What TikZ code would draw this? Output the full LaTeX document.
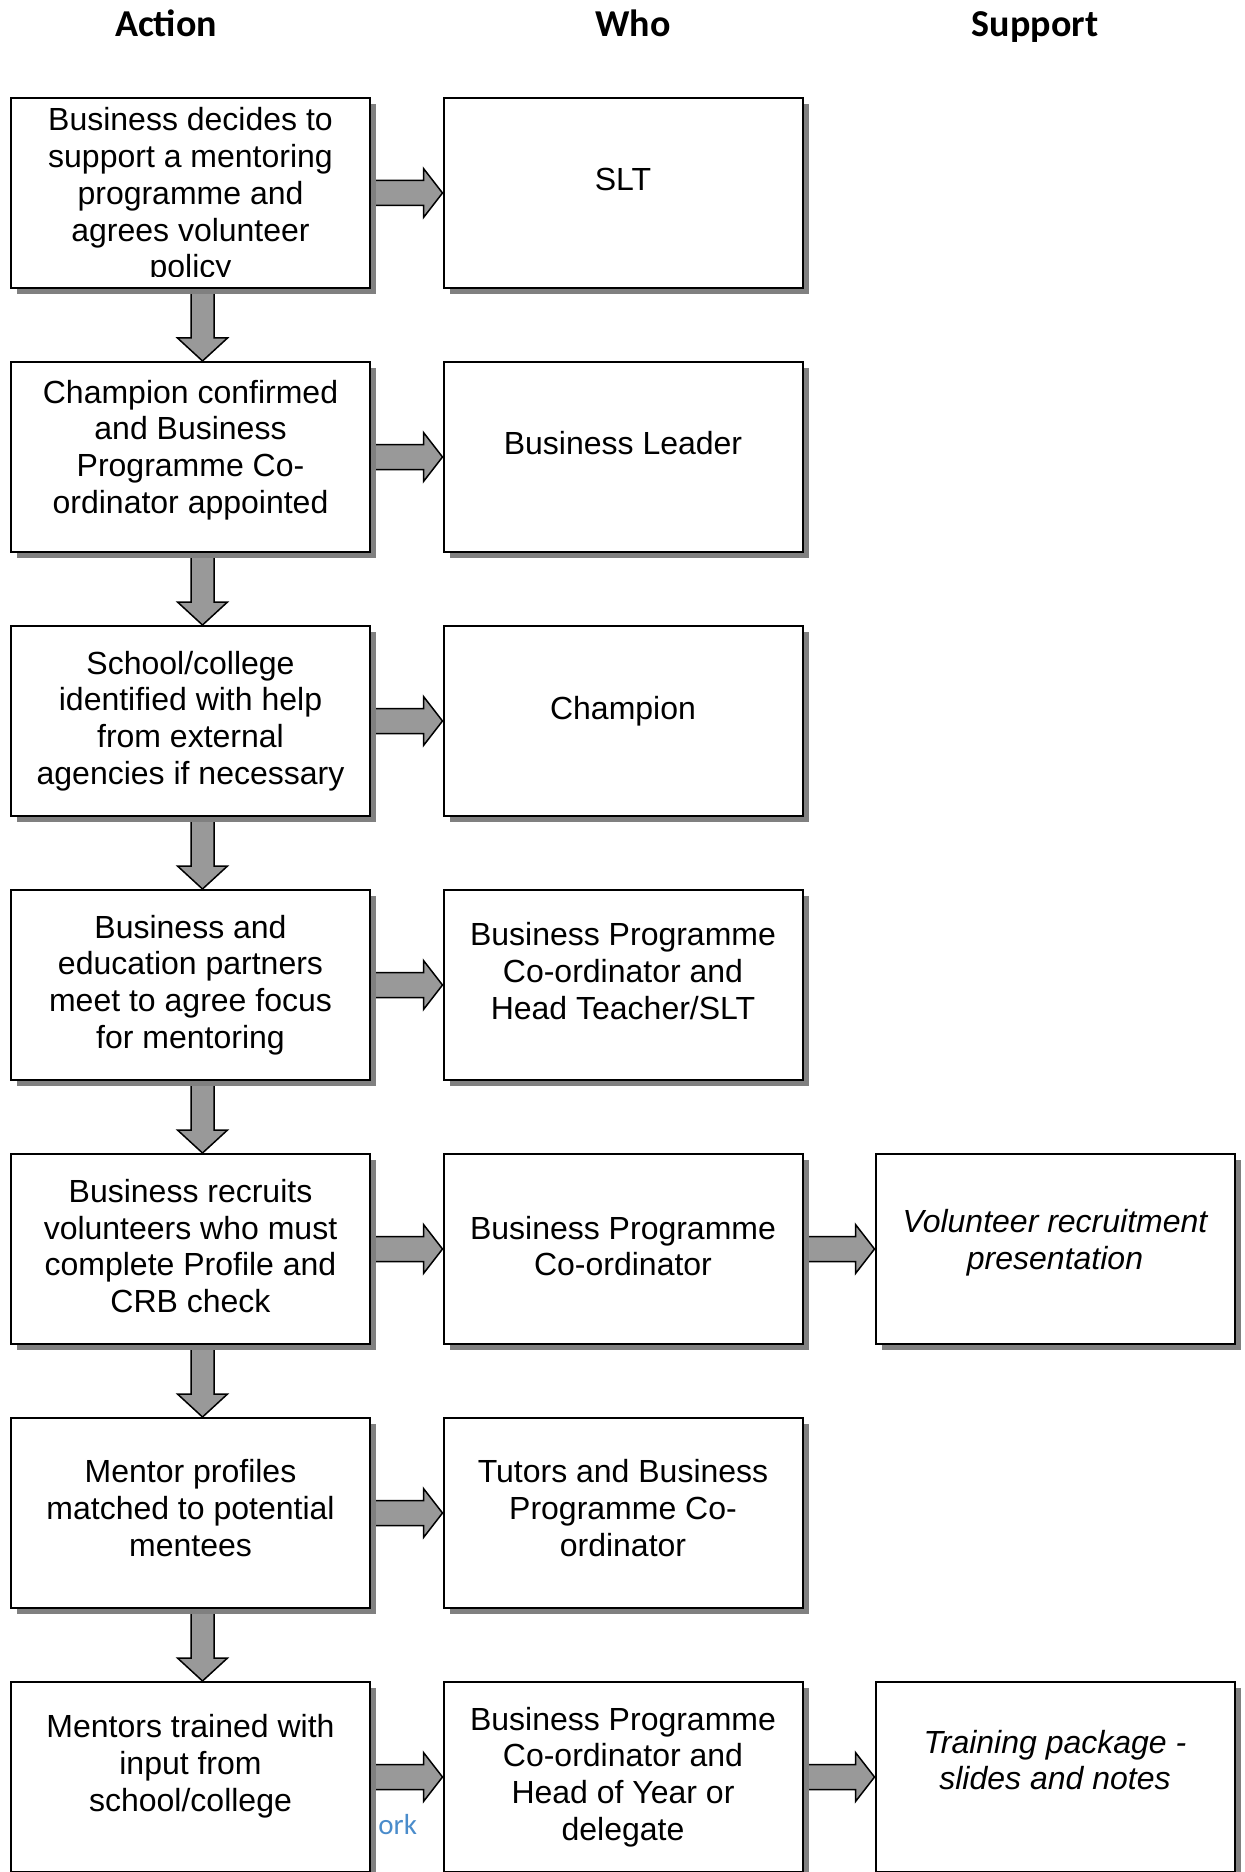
\documentclass[tikz,border=0pt]{standalone}
\usepackage{fontspec}
\setmainfont{Liberation Sans}
\newfontfamily\headfont{Carlito}
\usepackage{tikz}
\usetikzlibrary{calc}
\usetikzlibrary{backgrounds}
\usetikzlibrary{shadows}
\definecolor{ShadowGray}{HTML}{808080}
\definecolor{ArrowGray}{HTML}{999999}
\definecolor{LinkBlue}{HTML}{4A8CCB}
\newcommand{\pagesizex}{1245}
\newcommand{\pagesizey}{1872}
\newcommand{\boxsizex}{179.5pt}
\newcommand{\boxsizey}{95pt}
\newcommand{\colax}{190.5}
\newcommand{\colbx}{623}
\newcommand{\colcx}{1055}
\newcommand{\rowgap}{264}
\newcommand{\rowy}[1]{193 + #1*\rowgap}
\newcommand{\rshafthw}{12.5}
\newcommand{\rheadhw}{24.5}
\newcommand{\rheadlen}{19}
\newcommand{\dshafthw}{11.5}
\newcommand{\dheadhw}{25}
\newcommand{\dheadlen}{23}
\newcommand{\doffset}{12}
\newcommand{\blockright}[2]{
  \draw[blockarr] ($(#1.east)+(0,-\rshafthw)$)
    -- ($(#2.west)+(-\rheadlen,-\rshafthw)$)
    -- ($(#2.west)+(-\rheadlen,-\rheadhw)$)
    -- (#2.west)
    -- ($(#2.west)+(-\rheadlen,\rheadhw)$)
    -- ($(#2.west)+(-\rheadlen,\rshafthw)$)
    -- ($(#1.east)+(0,\rshafthw)$) -- cycle;
}
\newcommand{\blockdown}[2]{
  \draw[blockarr] ($(#1.south)+(\doffset-\dshafthw,0)$)
    -- ($(#2.north)+(\doffset-\dshafthw,-\dheadlen)$)
    -- ($(#2.north)+(\doffset-\dheadhw,-\dheadlen)$)
    -- ($(#2.north)+(\doffset,0)$)
    -- ($(#2.north)+(\doffset+\dheadhw,-\dheadlen)$)
    -- ($(#2.north)+(\doffset+\dshafthw,-\dheadlen)$)
    -- ($(#1.south)+(\doffset+\dshafthw,0)$) -- cycle;
}
\tikzset{
  flowbox/.style={draw, line width=1pt, fill=white, inner sep=0pt,
    minimum width=\boxsizex, minimum height=\boxsizey,
    drop shadow={shadow xshift=3pt, shadow yshift=-3pt, fill=ShadowGray, opacity=1}},
  boxtext/.style={align=center, inner sep=0pt, font=\fontsize{16}{18.4}\selectfont},
  supptext/.style={boxtext, font=\fontsize{16}{18.4}\selectfont\itshape},
  headtext/.style={anchor=base, inner sep=0pt, font=\headfont\bfseries\fontsize{19}{23}\selectfont},
  blockarr/.style={draw, line width=0.75pt, fill=ArrowGray, line join=miter}
}
\begin{document}
\begin{tikzpicture}[x=0.5pt, y=-0.5pt]
    \useasboundingbox (0,0) rectangle (\pagesizex,\pagesizey);
    \clip (0,0) rectangle (\pagesizex,\pagesizey);

    % column heads
    \node[headtext] (headact) at (166,37) {Action};
    \node[headtext] (headwho) at (633,37) {Who};
    \node[headtext] (headsup) at (1035,37) {Support};

    % stray fragment under the boxes
    \node[anchor=base west, inner sep=0pt, text=LinkBlue,
      font=\headfont\fontsize{14.5}{17}\selectfont] (orkfrag) at (378,1834) {ork};

    % boxes
    \node[flowbox] (act1) at (\colax,\rowy{0}) {};
    \node[flowbox] (who1) at (\colbx,\rowy{0}) {};
    \node[flowbox] (act2) at (\colax,\rowy{1}) {};
    \node[flowbox] (who2) at (\colbx,\rowy{1}) {};
    \node[flowbox] (act3) at (\colax,\rowy{2}) {};
    \node[flowbox] (who3) at (\colbx,\rowy{2}) {};
    \node[flowbox] (act4) at (\colax,\rowy{3}) {};
    \node[flowbox] (who4) at (\colbx,\rowy{3}) {};
    \node[flowbox] (act5) at (\colax,\rowy{4}) {};
    \node[flowbox] (who5) at (\colbx,\rowy{4}) {};
    \node[flowbox] (sup5) at (\colcx,\rowy{4}) {};
    \node[flowbox] (act6) at (\colax,\rowy{5}) {};
    \node[flowbox] (who6) at (\colbx,\rowy{5}) {};
    \node[flowbox] (act7) at (\colax,\rowy{6}) {};
    \node[flowbox] (who7) at (\colbx,\rowy{6}) {};
    \node[flowbox] (sup7) at (\colcx,\rowy{6}) {};

    % texts
    \begin{scope}
      \clip ($(act1.north west)+(1,1)$) rectangle ($(act1.south east)+(-1,-12)$);
      \node[boxtext] (act1t) at ($(act1)+(0,3)$) {Business decides to\\support a mentoring\\programme and\\agrees volunteer\\policy};
    \end{scope}
    \node[boxtext] (who1t) at ($(who1)+(0,-14)$) {SLT};
    \node[boxtext] (act2t) at ($(act2)+(0,-7)$) {Champion confirmed\\and Business\\Programme Co-\\ordinator appointed};
    \node[boxtext] (who2t) at ($(who2)+(0,-14)$) {Business Leader};
    \node[boxtext] (act3t) at ($(act3)+(0,0)$) {School/college\\identified with help\\from external\\agencies if necessary};
    \node[boxtext] (who3t) at ($(who3)+(0,-10)$) {Champion};
    \node[boxtext] (act4t) at ($(act4)+(0,0)$) {Business and\\education partners\\meet to agree focus\\for mentoring};
    \node[boxtext] (who4t) at ($(who4)+(0,-14)$) {Business Programme\\Co-ordinator and\\Head Teacher/SLT};
    \node[boxtext] (act5t) at ($(act5)+(0,-3)$) {Business recruits\\volunteers who must\\complete Profile and\\CRB check};
    \node[boxtext] (who5t) at ($(who5)+(0,-3)$) {Business Programme\\Co-ordinator};
    \node[supptext] (sup5t) at ($(sup5)+(0,-6)$) {Volunteer recruitment\\presentation};
    \node[boxtext] (act6t) at ($(act6)+(0,-5)$) {Mentor profiles\\matched to potential\\mentees};
    \node[boxtext] (who6t) at ($(who6)+(0,-5)$) {Tutors and Business\\Programme Co-\\ordinator};
    \node[boxtext] (act7t) at ($(act7)+(0,-11)$) {Mentors trained with\\input from\\school/college};
    \node[boxtext] (who7t) at ($(who7)+(0,0)$) {Business Programme\\Co-ordinator and\\Head of Year or\\delegate};
    \node[supptext] (sup7t) at ($(sup7)+(0,-17)$) {Training package -\\slides and notes};

    % block arrows behind the boxes
    \begin{scope}[on background layer]
      \blockright{act1}{who1}
      \blockright{act2}{who2}
      \blockright{act3}{who3}
      \blockright{act4}{who4}
      \blockright{act5}{who5}
      \blockright{who5}{sup5}
      \blockright{act6}{who6}
      \blockright{act7}{who7}
      \blockright{who7}{sup7}
      \blockdown{act1}{act2}
      \blockdown{act2}{act3}
      \blockdown{act3}{act4}
      \blockdown{act4}{act5}
      \blockdown{act5}{act6}
      \blockdown{act6}{act7}
    \end{scope}
\end{tikzpicture}
\end{document}
